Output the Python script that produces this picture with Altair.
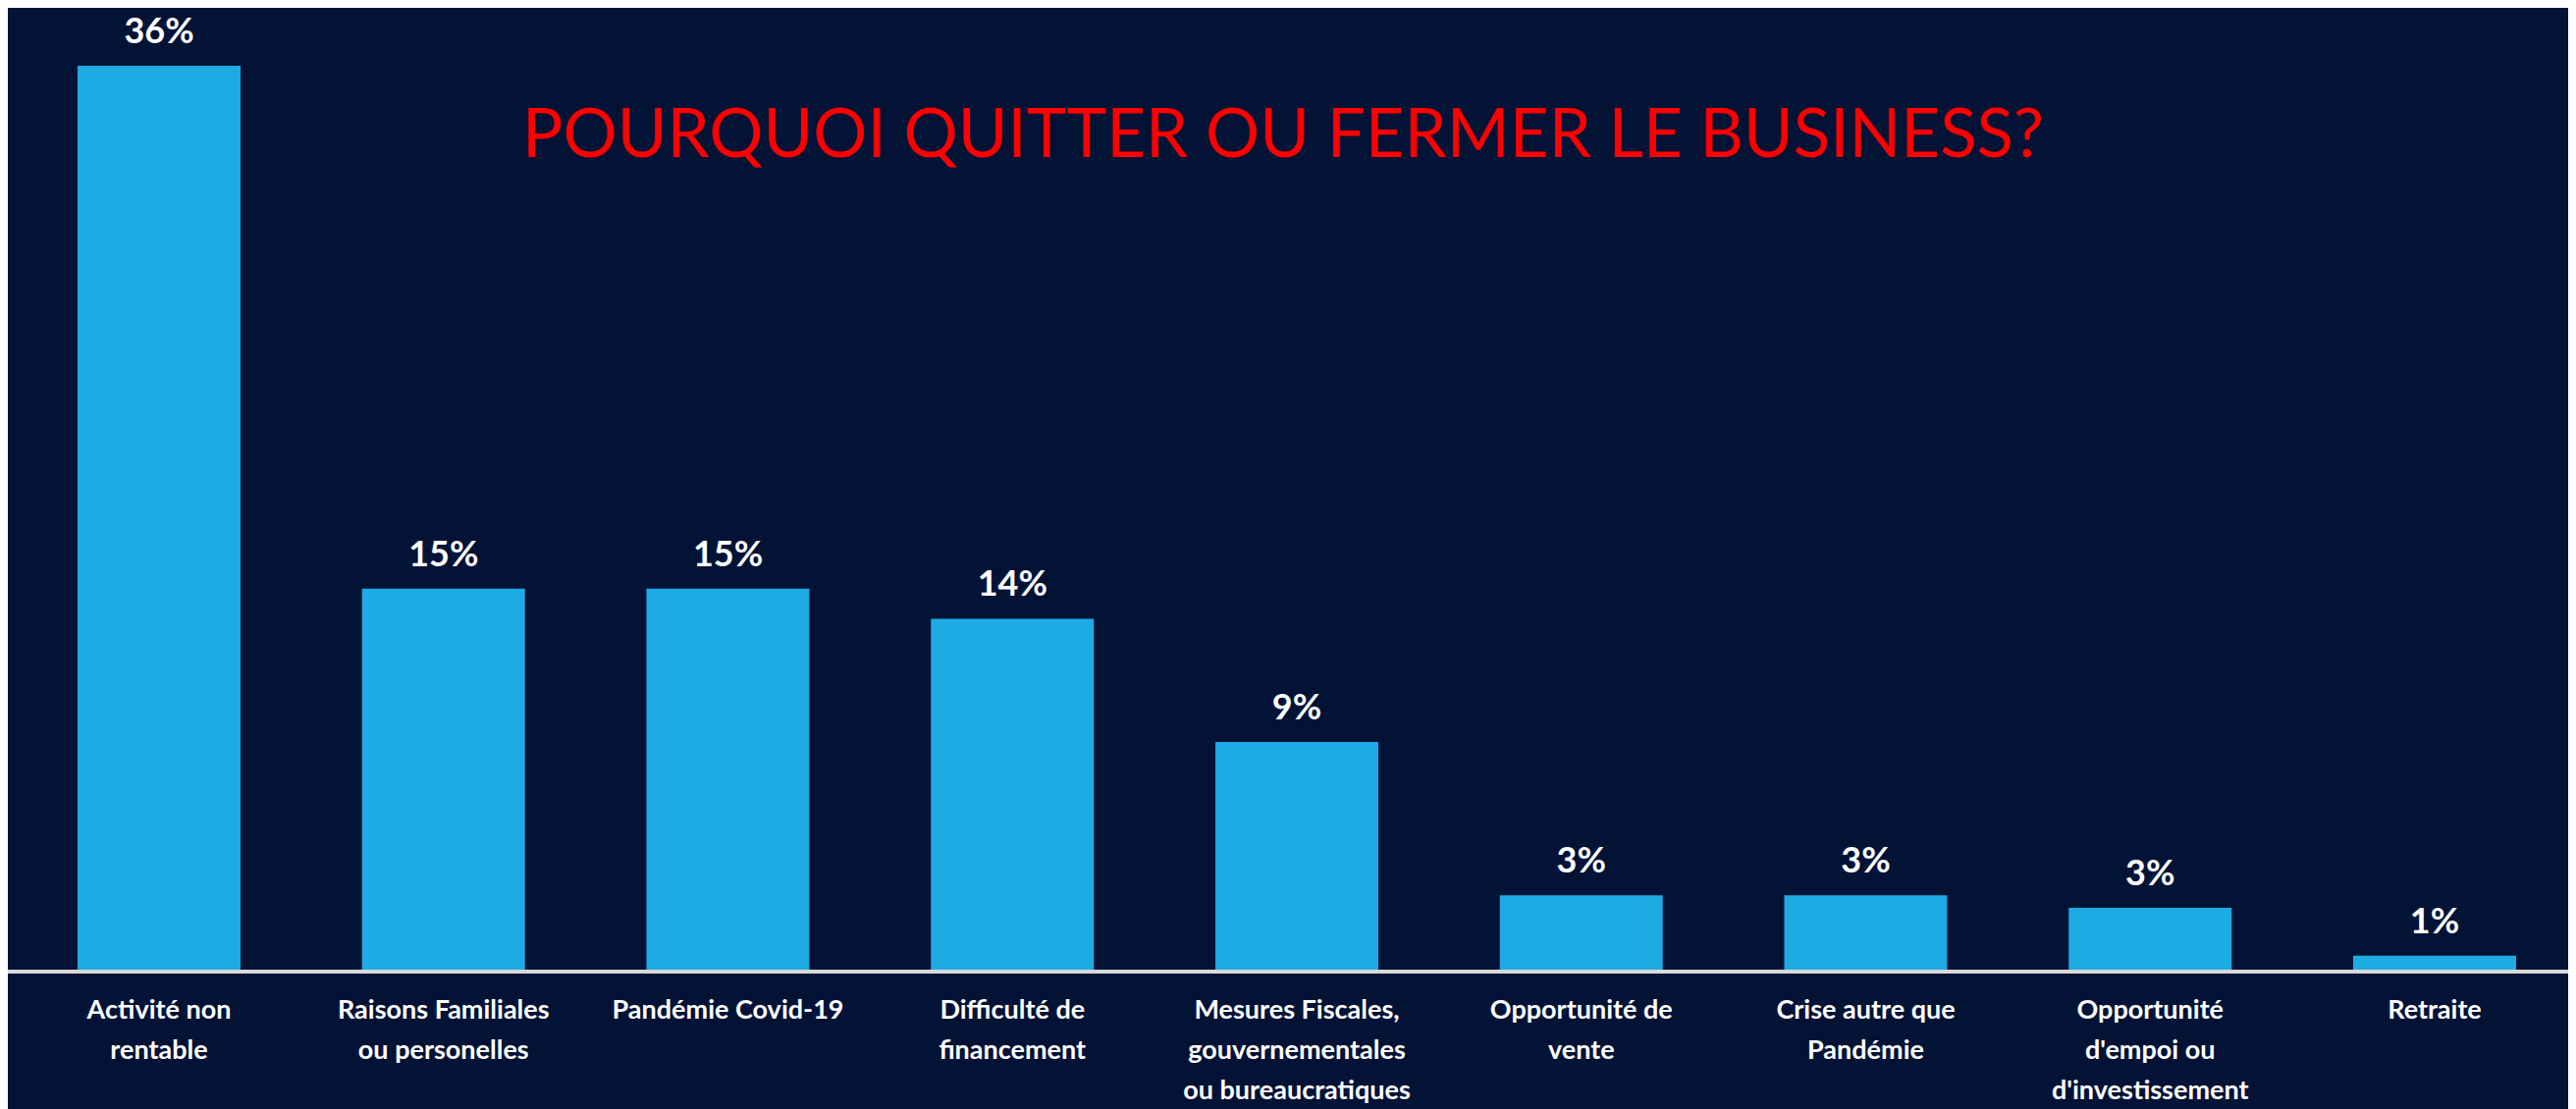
import altair as alt
import pandas as pd

categories = [
    "Activité non\nrentable",
    "Raisons Familiales\nou personelles",
    "Pandémie Covid-19",
    "Difficulté de\nfinancement",
    "Mesures Fiscales,\ngouvernementales\nou bureaucratiques",
    "Opportunité de\nvente",
    "Crise autre que\nPandémie",
    "Opportunité\nd'empoi ou\nd'investissement",
    "Retraite",
]
values = [36.0, 15.2, 15.2, 14.0, 9.1, 3.0, 3.0, 2.5, 0.6]
value_labels = ["36%", "15%", "15%", "14%", "9%", "3%", "3%", "3%", "1%"]
title_text = "POURQUOI QUITTER OU FERMER LE BUSINESS?"

df = pd.DataFrame({"cat": categories, "val": values, "lab": value_labels})

BG = "#021336"
BAR = "#1EAAE2"
W, H = 2484, 981

x_enc = alt.X(
    "cat:N",
    sort=categories,
    scale=alt.Scale(paddingInner=0.427, paddingOuter=0),
    axis=alt.Axis(
        labelExpr="split(datum.label, '\\n')",
        labelFont="Lato",
        labelFontSize=27,
        labelFontWeight="bold",
        labelColor="white",
        labelLineHeight=41,
        labelPadding=27,
        labelAngle=0,
        labelLimit=500,
        ticks=False,
        tickSize=0,
        domain=False,
        grid=False,
        title=None,
    ),
)
y_enc = alt.Y("val:Q", scale=alt.Scale(domain=[0, 38.3], nice=False, zero=True), axis=None)

base = alt.Chart(df)

bars = base.mark_bar(color=BAR).encode(x=x_enc, y=y_enc)

texts = base.mark_text(
    font="Lato", fontSize=36, fontWeight="bold", color="white",
    baseline="alphabetic", dy=-23,
).encode(x=x_enc, y=y_enc, text="lab:N")

axis_line = base.mark_rule(color="#D9D9D9", strokeWidth=3).encode(
    x=alt.value(-72), x2=alt.value(2537), y=alt.value(H + 1)
)

chart = (
    alt.layer(bars, texts, axis_line)
    .properties(
        width=W,
        height=H,
        background=BG,
        padding={"left": 71, "top": 0, "right": 53, "bottom": 141},
        autosize=alt.AutoSizeParams(type="none"),
        title=alt.Title(
            title_text,
            color="#FF0000",
            font="Lato",
            fontSize=69,
            fontWeight="normal",
            anchor="middle",
            baseline="alphabetic",
            offset=0,
            dy=221,
            dx=-14,
        ),
    )
    .configure_view(stroke=None)
)

chart.save("out.html", embed_options={"renderer": "svg", "actions": False})
